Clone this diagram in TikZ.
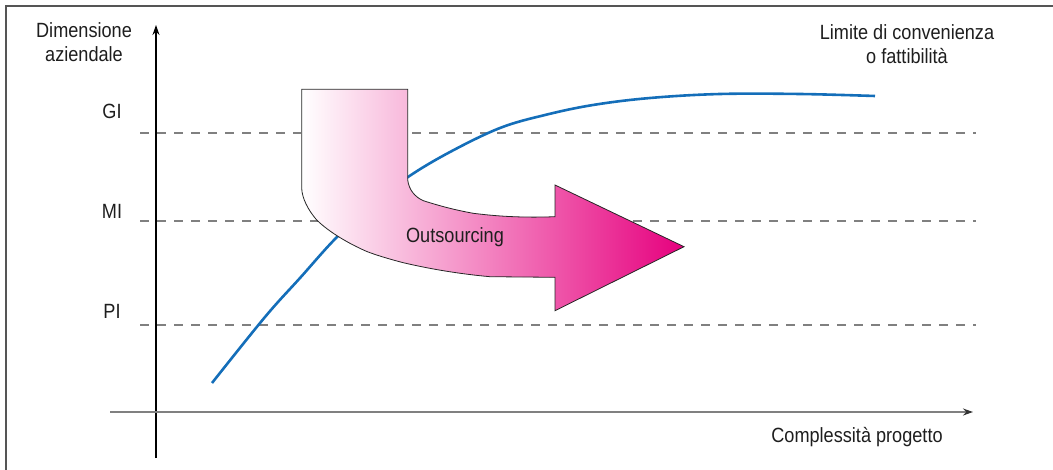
\documentclass[tikz,border=0pt]{standalone}
\usepackage{fontspec}
\setmainfont[FakeStretch=0.88]{Liberation Sans}
\usepackage{tikz}
\usetikzlibrary{arrows.meta}
\definecolor{curveblue}{RGB}{20,110,185}
\definecolor{outmagenta}{RGB}{230,0,126}
\definecolor{outpink}{RGB}{244,168,205}
\definecolor{framegray}{RGB}{85,85,85}
\definecolor{textgray}{RGB}{30,30,30}

\begin{document}
\begin{tikzpicture}[x=0.5pt, y=-0.5pt, font=\fontsize{10.3}{12}\selectfont, text=textgray]
\useasboundingbox (0,0) rectangle (1053,470);
% frame
\draw[framegray, line width=1pt] (1053,6) -- (6,6) -- (6,470);
% axes
\coordinate (ybot) at (156,458);
\coordinate (ytop) at (156,25);
\coordinate (xleft) at (110,412);
\coordinate (xright) at (973,412);
\draw[black, line width=0.6pt, -{Stealth[length=5pt, width=3.5pt]}] (ybot) -- (ytop);
\draw[gray, line width=0.9pt, -{Stealth[length=5pt, width=3.5pt, color=black!80]}] (xleft) -- (xright);
% levels
\foreach \lev/\y/\ly in {GI/133/111, MI/221/211, PI/325/311} {
  \coordinate (\lev l) at (140,\y);
  \coordinate (\lev r) at (976,\y);
  \draw[gray, line width=0.6pt, dash pattern=on 4.5pt off 4pt] (\lev l) -- (\lev r);
  \node (lab\lev) at (112,\ly) {\lev};
}
% curve
\draw[curveblue, line width=1.3pt] plot[smooth, tension=0.6] coordinates {
  (212,383) (265,317) (300,278) (337,237) (375,203) (408,177) (450,152)
  (500,128) (545,115) (593,105) (650,98) (720,94) (800,94) (875,96)};
% outsourcing arrow
\path[draw=black!85, line width=0.4pt, left color=white, middle color=outpink, right color=outmagenta]
  (301.7,89.3) -- (407.7,89.3) -- (407.7,180)
  .. controls (409,190) and (415,197) .. (423.3,200.7)
  .. controls (440,206) and (455,210) .. (473.3,213.3)
  .. controls (495,216) and (520,218) .. (555,216.7)
  -- (555,185) -- (684,246.7) -- (555,310.7) -- (555,277.3)
  -- (490,276.7)
  .. controls (460,274) and (430,269) .. (403.3,262.7)
  .. controls (385,258) and (370,253) .. (365,250.7)
  .. controls (350,244) and (330,233) .. (316.7,220)
  .. controls (308,210) and (302,198) .. (301.7,188.3)
  -- cycle;
\node (outs) at (455,237) {Outsourcing};
% labels
\node[align=center] (ylab) at (84,42) {Dimensione\\aziendale};
\node[align=center] (limit) at (907,44) {Limite di convenienza\\o fattibilità};
\node (xlab) at (857,437) {Complessità progetto};
\end{tikzpicture}
\end{document}
